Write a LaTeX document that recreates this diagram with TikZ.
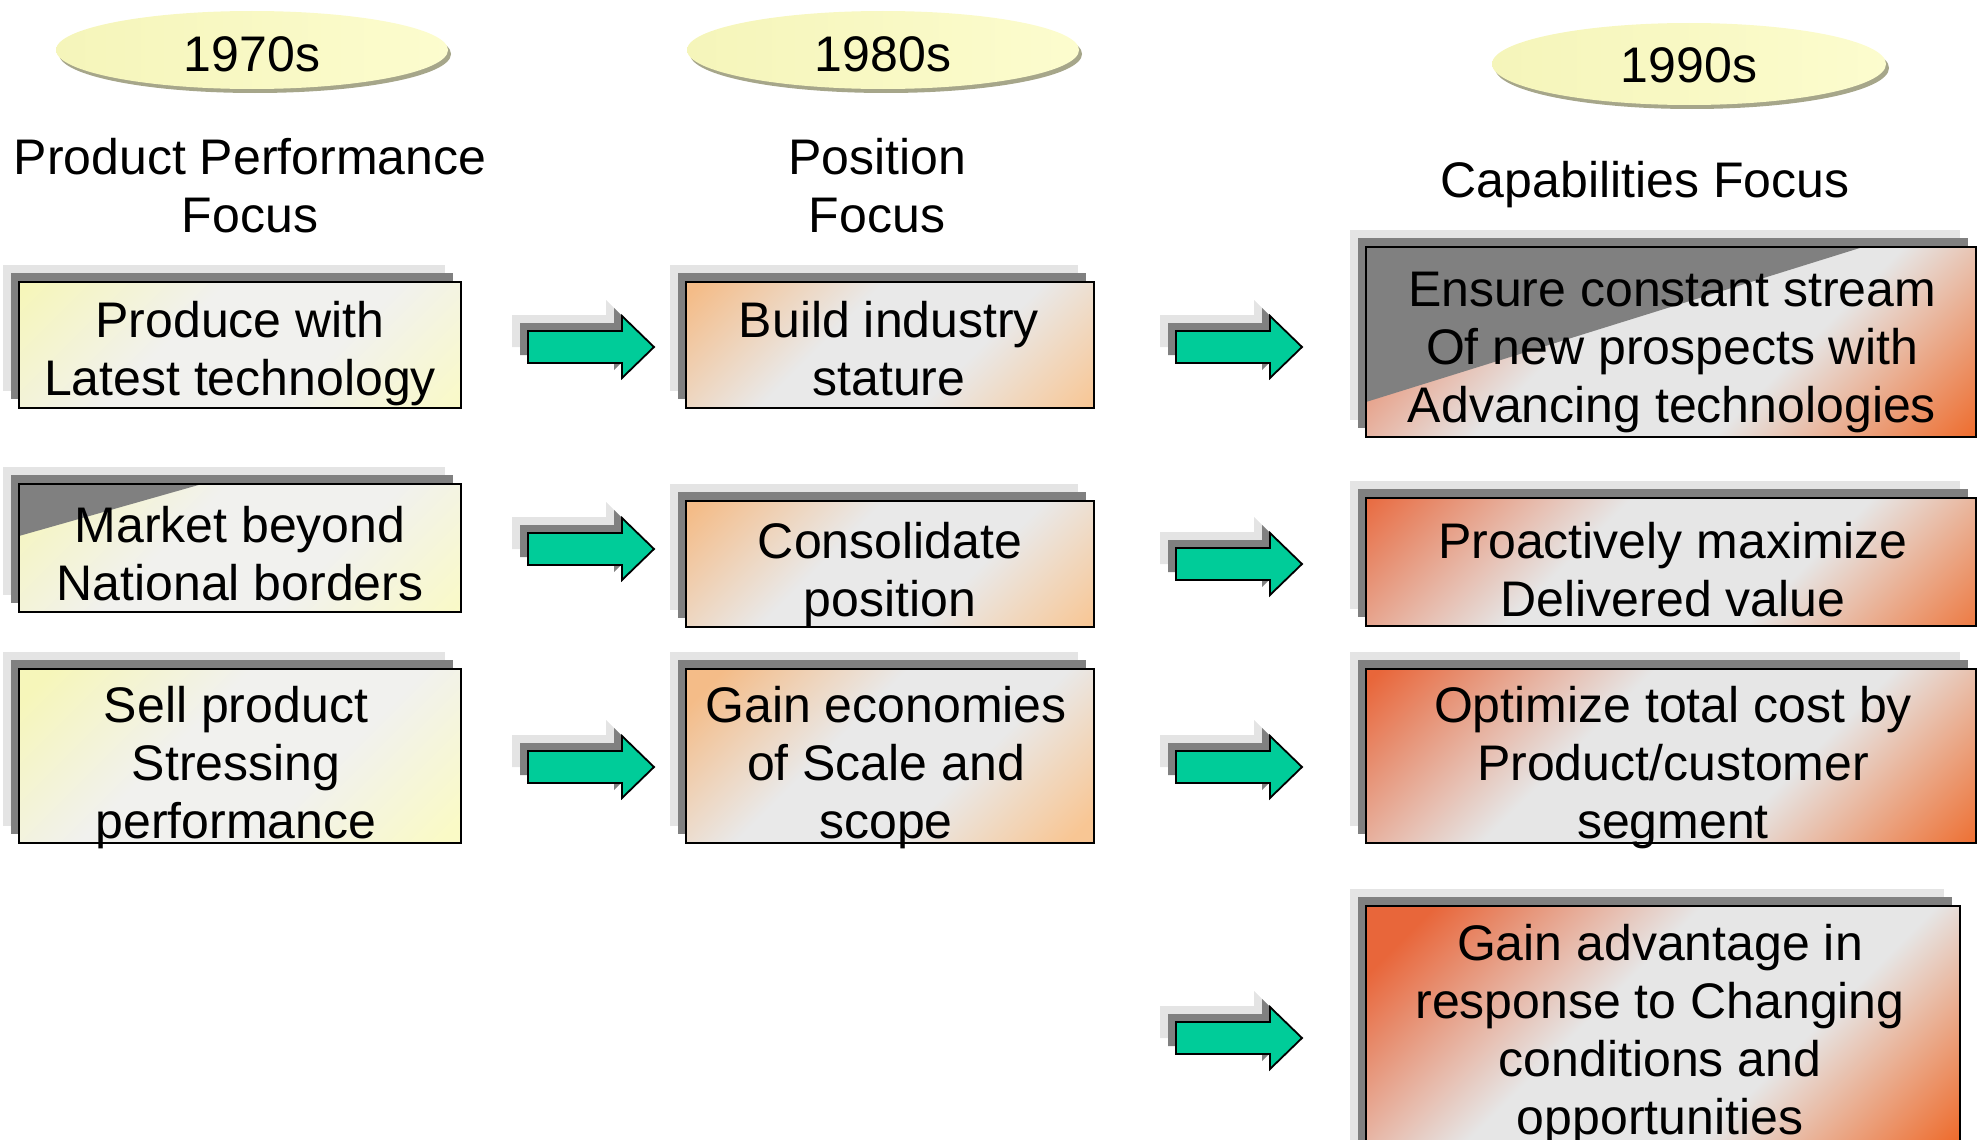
\documentclass[tikz,border=0pt]{standalone}
\usepackage{fontspec}
\setmainfont{Liberation Sans}
\usetikzlibrary{shapes.geometric,shadows}

% palette
\definecolor{shadelight}{HTML}{E4E4E4}
\definecolor{shadedark}{HTML}{808080}
\definecolor{arrowgreen}{HTML}{00CC99}
\definecolor{ovalshadow}{HTML}{A6A68A}
\definecolor{ovalleft}{HTML}{F5F5BA}
\definecolor{ovalright}{HTML}{FCFCCE}
\definecolor{yelTL}{HTML}{F6F6BA}
\definecolor{yelBR}{HTML}{FAFAC6}
\definecolor{yelMid}{HTML}{F1F1EE}
\definecolor{pchTL}{HTML}{F4BC88}
\definecolor{pchBR}{HTML}{F8C694}
\definecolor{pchMid}{HTML}{E9E9E9}
\definecolor{orgTL}{HTML}{E8663A}
\definecolor{orgBR}{HTML}{EE6E30}
\definecolor{orgMid}{HTML}{E6E6E6}

% diagonal two-corner gradients (top-left / middle band / bottom-right)
\pgfdeclareverticalshading{yelgrad}{100bp}{color(0bp)=(yelBR); color(27bp)=(yelBR); color(42bp)=(yelMid); color(56bp)=(yelMid); color(72bp)=(yelTL); color(100bp)=(yelTL)}
\pgfdeclareverticalshading{pchgrad}{100bp}{color(0bp)=(pchBR); color(27bp)=(pchBR); color(42bp)=(pchMid); color(56bp)=(pchMid); color(72bp)=(pchTL); color(100bp)=(pchTL)}
\pgfdeclareverticalshading{orggrad}{100bp}{color(0bp)=(orgBR); color(27bp)=(orgBR); color(42bp)=(orgMid); color(56bp)=(orgMid); color(72bp)=(orgTL); color(100bp)=(orgTL)}

\newcommand\bigtext{\fontsize{50}{58}\selectfont}

\tikzset{
  card/.style 2 args={rectangle, draw=black, line width=1.5pt, inner sep=0pt, outer sep=0pt,
    general shadow={shadow xshift=-16pt, shadow yshift=17pt, fill=shadelight, opacity=1},
    general shadow={shadow xshift=-8pt, shadow yshift=9pt, fill=shadedark, opacity=1},
    path picture={\shade[shading=#1, shading angle=45]
      (path picture bounding box.center) ++(-#2,-#2) rectangle ++(2*#2,2*#2);}},
  cardborder/.style={draw=black, line width=1.5pt},
  corner/.style={fill=shadedark},
  cardtext/.style={font=\bigtext, align=center, inner sep=0pt,
    execute at begin node=\strut, execute at end node=\strut},
  heading/.style={cardtext},
  oval/.style={ellipse, inner sep=0pt, left color=ovalleft, right color=ovalright,
    font=\bigtext, text height=44pt, text depth=0pt,
    general shadow={shadow xshift=3pt, shadow yshift=-4pt, fill=ovalshadow, opacity=1}},
  blockarrow/.pic={
    \foreach \shoff/\shcol in {16/shadelight,8/shadedark}{
      \fill[\shcol, shift={(-\shoff,-\shoff)}] (-126,-16) -- (-32,-16) -- (-32,-31) -- (0,0)
        -- (-32,31) -- (-32,16) -- (-126,16) -- cycle;
    }
    \filldraw[fill=arrowgreen, draw=black, line width=1.8pt, line join=miter]
      (-126,-16) -- (-32,-16) -- (-32,-31) -- (0,0) -- (-32,31) -- (-32,16) -- (-126,16) -- cycle;
  }
}

\begin{document}
\begin{tikzpicture}[x=1pt, y=-1pt]
\useasboundingbox (0,0) rectangle (1978,1140);
\clip (0,0) rectangle (1978,1140);

% decade ovals
\node[oval, minimum width=392pt, minimum height=78pt] (e1) at (252,50) {1970s};
\node[oval, minimum width=392pt, minimum height=78pt] (e2) at (883,50) {1980s};
\node[oval, minimum width=394pt, minimum height=82pt, text height=36pt] (e3) at (1689,64) {1990s};

% column headings
\node[heading] (h1) at (250,194) {Product Performance\\Focus};
\node[heading] (h2) at (877,194) {Position\\Focus};
\node[heading] (h3) at (1645,185.5) {Capabilities Focus};

% 1970s column
\node[card={yelgrad}{221}, minimum width=442pt, minimum height=126pt] (b11) at (240,345) {};
\node[card={yelgrad}{221}, minimum width=442pt, minimum height=128pt] (b12) at (240,548) {};
\node[card={yelgrad}{221}, minimum width=442pt, minimum height=174pt] (b13) at (240,756) {};

% 1980s column
\node[card={pchgrad}{204}, minimum width=408pt, minimum height=126pt] (b21) at (890,345) {};
\node[card={pchgrad}{204}, minimum width=408pt, minimum height=126pt] (b22) at (890,564) {};
\node[card={pchgrad}{204}, minimum width=408pt, minimum height=174pt] (b23) at (890,756) {};

% 1990s column
\node[card={orggrad}{305}, minimum width=610pt, minimum height=190pt] (b31) at (1671,342) {};
\node[card={orggrad}{305}, minimum width=610pt, minimum height=128pt] (b32) at (1671,562) {};
\node[card={orggrad}{305}, minimum width=610pt, minimum height=174pt] (b33) at (1671,756) {};
\node[card={orggrad}{297}, minimum width=594pt, minimum height=280pt] (b34) at (1663,1046) {};

% grey corner wedges
\fill[corner] (b12.north west) -- (202,484) -- (19,536) -- cycle;
\draw[cardborder] (b12.north west) rectangle (b12.south east);
\fill[corner] (b31.north west) -- (1863,247) -- (1366,402) -- cycle;
\draw[cardborder] (b31.north west) rectangle (b31.south east);

% card texts
\node[cardtext] (t11) at (240,357) {Produce with\\Latest technology};
\node[cardtext] (t12) at (240,562) {Market beyond\\National borders};
\node[cardtext] (t13) at (236,771) {Sell product\\Stressing\\performance};
\node[cardtext] (t21) at (889,357) {Build industry\\stature};
\node[cardtext] (t22) at (890,578) {Consolidate\\position};
\node[cardtext] (t23) at (886,771) {Gain economies\\of Scale and\\scope};
\node[cardtext] (t31) at (1672,356) {Ensure constant stream\\Of new prospects with\\Advancing technologies};
\node[cardtext] (t32) at (1673,578) {Proactively maximize\\Delivered value};
\node[cardtext] (t33) at (1673,771) {Optimize total cost by\\Product/customer\\segment};
\node[cardtext] (t34) at (1660,1038) {Gain advantage in\\response to Changing\\conditions and\\opportunities};

% block arrows between the columns
\coordinate (a11) at (654,347);
\coordinate (a12) at (654,549);
\coordinate (a13) at (654,767);
\coordinate (a21) at (1302,347);
\coordinate (a22) at (1302,564);
\coordinate (a23) at (1302,767);
\coordinate (a24) at (1302,1038);
\foreach \tip in {a11,a12,a13,a21,a22,a23,a24}{
  \pic at (\tip) {blockarrow};
}
\end{tikzpicture}
\end{document}
